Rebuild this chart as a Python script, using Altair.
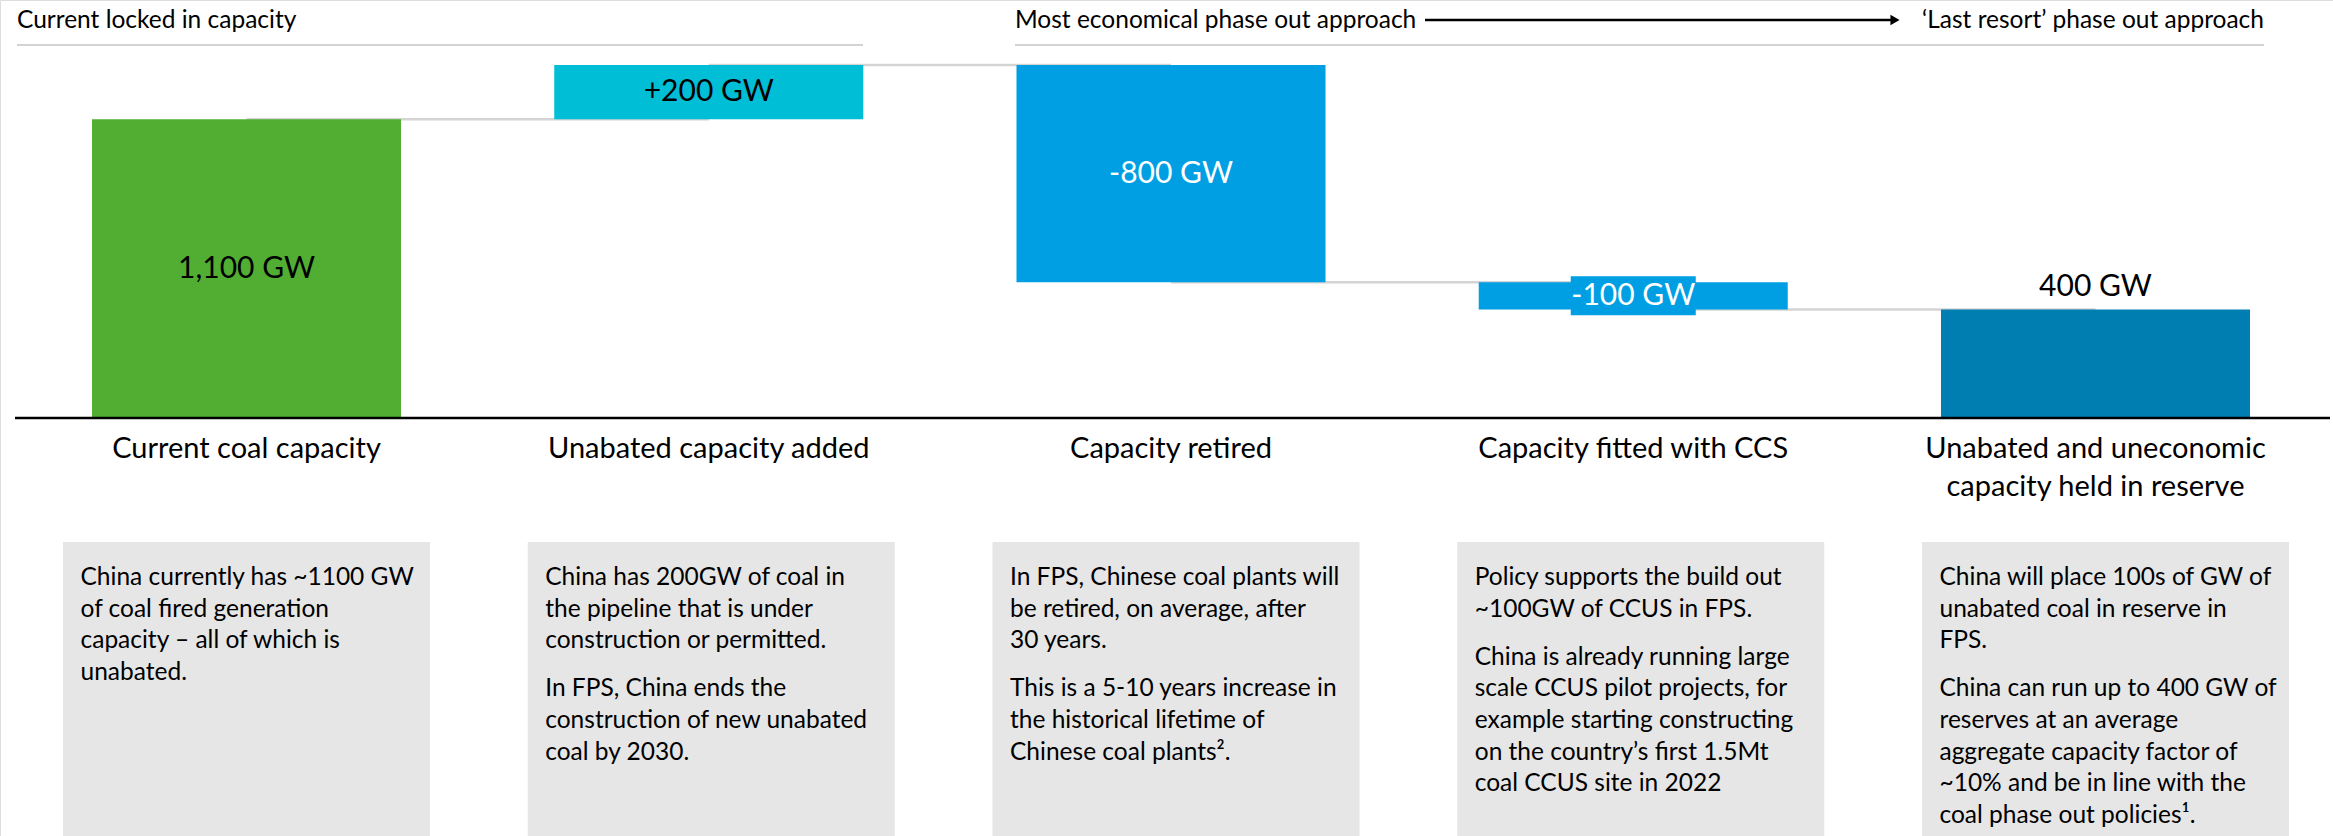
import altair as alt
import pandas as pd

# ---------------- data ----------------
categories = ["Current coal capacity", "Unabated capacity added", "Capacity retired",
              "Capacity fitted with CCS", "Unabated and uneconomic capacity held in reserve"]
category_labels = ["Current coal capacity", "Unabated capacity added", "Capacity retired",
                   "Capacity fitted with CCS", "Unabated and uneconomic\ncapacity held in reserve"]
step_values = [1100, 200, -800, -100, 400]
step_kind = ["total", "delta", "delta", "delta", "total"]
value_labels = ["1,100 GW", "+200 GW", "-800 GW", "-100 GW", "400 GW"]

box_para1 = [
    ["China currently has ~1100 GW", "of coal fired generation", "capacity \u2013 all of which is", "unabated."],
    ["China has 200GW of coal in", "the pipeline that is under", "construction or permitted."],
    ["In FPS, Chinese coal plants will", "be retired, on average, after", "30 years."],
    ["Policy supports the build out", "~100GW of CCUS in FPS."],
    ["China will place 100s of GW of", "unabated coal in reserve in", "FPS."],
]
box_para2 = [
    [],
    ["In FPS, China ends the", "construction of new unabated", "coal by 2030."],
    ["This is a 5-10 years increase in", "the historical lifetime of", "Chinese coal plants\u00b2."],
    ["China is already running large", "scale CCUS pilot projects, for", "example starting constructing",
     "on the country\u2019s first 1.5Mt", "coal CCUS site in 2022"],
    ["China can run up to 400 GW of", "reserves at an average", "aggregate capacity factor of",
     "~10% and be in line with the", "coal phase out policies\u00b9."],
]

header_left = "Current locked in capacity"
header_mid = "Most economical phase out approach"
header_right = "\u2018Last resort\u2019 phase out approach"

# ---------------- styles ----------------
FONT = "Lato"
bar_colors = ["#52AE32", "#00BED6", "#009FE3", "#009FE3", "#007DB1"]
label_colors = ["black", "black", "white", "white", "black"]
BOX_FILL = "#E6E6E6"
CONNECT = "#D4D4D4"

# running waterfall levels
starts, ends = [], []
level = 0
for v, k in zip(step_values, step_kind):
    if k == "total":
        starts.append(0)
        ends.append(v)
        level = v
    else:
        starts.append(level)
        level += v
        ends.append(level)

LINE_H = 31.7
PARA_GAP = 48
P1_Y = 585
df = pd.DataFrame({
    "cat": categories,
    "cat_label": category_labels,
    "order": list(range(len(categories))),
    "start": starts,
    "end": ends,
    "label": value_labels,
    "color": bar_colors,
    "tcolor": label_colors,
    "p1": ["\n".join(p) for p in box_para1],
    "p2": ["\n".join(p) for p in box_para2],
    "p2_y": [P1_Y + (len(p) - 1) * LINE_H + PARA_GAP for p in box_para1],
})
df["mid"] = (df["start"] + df["end"]) / 2
df["box_lo"] = df["mid"] - 72
df["box_hi"] = df["mid"] + 72

conn = pd.DataFrame({
    "cat": categories[:-1],
    "next_cat": categories[1:],
    "level": ends[:-1],
})
one = pd.DataFrame({"k": [0]})

y_sc = alt.Scale(domain=[0, 1300], range=[418, 65], nice=False, zero=False)
x_bar = alt.X("cat:N", sort=categories, axis=None,
              scale=alt.Scale(range=[92, 2250], paddingInner=0.3315, paddingOuter=0))
x_box = alt.X("cat:N", sort=categories, axis=None,
              scale=alt.Scale(range=[63, 2289], paddingInner=0.2103, paddingOuter=0))

# ---------------- waterfall ----------------
connectors = alt.Chart(conn).mark_rule(color=CONNECT, strokeWidth=2.5).encode(
    x=x_bar,
    x2="next_cat:N",
    y=alt.Y("level:Q", scale=y_sc, axis=None),
)
bars = alt.Chart(df).mark_bar().encode(
    x=x_bar,
    y=alt.Y("start:Q", scale=y_sc, axis=None),
    y2="end:Q",
    color=alt.Color("color:N", scale=None),
)
label_box = alt.Chart(df).transform_filter("abs(datum.end - datum.start) < 150").mark_bar(
    width=125).encode(
    x=x_bar,
    y=alt.Y("box_lo:Q", scale=y_sc, axis=None),
    y2="box_hi:Q",
    color=alt.Color("color:N", scale=None),
)
inner_labels = alt.Chart(df).transform_filter("datum.order < 4").mark_text(
    font=FONT, fontSize=30, baseline="middle", align="center").encode(
    x=x_bar,
    y=alt.Y("mid:Q", scale=y_sc, axis=None),
    text="label:N",
    color=alt.Color("tcolor:N", scale=None),
)
outer_labels = alt.Chart(df).transform_filter("datum.order == 4").mark_text(
    font=FONT, fontSize=30, baseline="middle", align="center", dy=-22).encode(
    x=x_bar,
    y=alt.Y("end:Q", scale=y_sc, axis=None),
    text="label:N",
    color=alt.Color("tcolor:N", scale=None),
)
baseline_rule = alt.Chart(one).mark_rule(color="black", strokeWidth=2.5).encode(
    x=alt.value(15), x2=alt.value(2330), y=alt.datum(0)
)
cat_labels = alt.Chart(df).mark_text(
    font=FONT, fontSize=29, baseline="top", align="center", lineBreak="\n", lineHeight=38
).encode(x=x_bar, y=alt.value(435), text="cat_label:N")

waterfall = alt.layer(connectors, bars, label_box, inner_labels, outer_labels,
                      baseline_rule, cat_labels)

# ---------------- boxes & headers ----------------
box_rect = alt.Chart(df).mark_bar(color=BOX_FILL).encode(
    x=x_box, y=alt.value(542), y2=alt.value(836)
)
para1 = alt.Chart(df).mark_text(
    font=FONT, fontSize=24.5, align="left", baseline="alphabetic", dx=-166,
    lineBreak="\n", lineHeight=LINE_H, color="black"
).encode(x=x_box, y=alt.value(P1_Y), text="p1:N")
para2 = alt.Chart(df).mark_text(
    font=FONT, fontSize=24.5, align="left", baseline="alphabetic", dx=-166,
    lineBreak="\n", lineHeight=LINE_H, color="black"
).encode(x=x_box, y=alt.Y("p2_y:Q", scale=None, axis=None), text="p2:N")

hdr_style = dict(font=FONT, fontSize=24.5, baseline="alphabetic", color="black")
h1 = alt.Chart(one).mark_text(align="left", **hdr_style).encode(
    x=alt.value(17), y=alt.value(28), text=alt.value(header_left))
h2 = alt.Chart(one).mark_text(align="left", **hdr_style).encode(
    x=alt.value(1015), y=alt.value(28), text=alt.value(header_mid))
h3 = alt.Chart(one).mark_text(align="right", **hdr_style).encode(
    x=alt.value(2264), y=alt.value(28), text=alt.value(header_right))
arrow_line = alt.Chart(one).mark_rule(color="black", strokeWidth=2.5).encode(
    x=alt.value(1425), x2=alt.value(1892), y=alt.value(20))
arrow_head = alt.Chart(one).mark_point(shape="triangle-right", filled=True, size=110,
                                       color="black", opacity=1).encode(
    x=alt.value(1895), y=alt.value(20))
uline1 = alt.Chart(one).mark_rule(color="#C4C4C4", strokeWidth=1.5).encode(
    x=alt.value(17), x2=alt.value(863), y=alt.value(45))
uline2 = alt.Chart(one).mark_rule(color="#C4C4C4", strokeWidth=1.5).encode(
    x=alt.value(1015), x2=alt.value(2264), y=alt.value(45))

annot = alt.layer(box_rect, para1, para2, h1, h2, h3, arrow_line, arrow_head, uline1, uline2)

chart = alt.layer(waterfall, annot).resolve_scale(
    x="independent", y="independent"
).properties(
    width=2333, height=836, autosize="none", padding=0
).configure_view(stroke=None).configure(background="white")

chart.save("out.html", embed_options={"renderer": "svg", "actions": False})
